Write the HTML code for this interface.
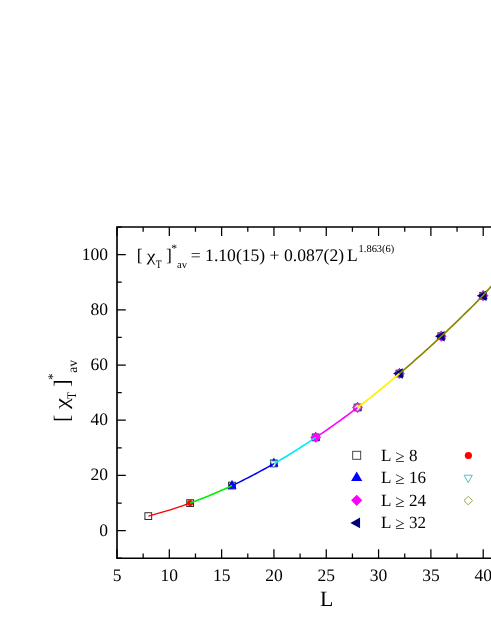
<!DOCTYPE html>
<html><head><meta charset="utf-8"><title>chart</title>
<style>
html,body{margin:0;padding:0;background:#fff;}
body{width:491px;height:635px;overflow:hidden;}
svg{display:block;will-change:transform;}
text{font-family:"Liberation Serif",serif;fill:#000;text-rendering:geometricPrecision;}
</style></head><body>
<svg width="491" height="635" viewBox="0 0 491 635">
<rect x="0" y="0" width="491" height="635" fill="#fff"/>
<rect x="144.91" y="512.73" width="6.75" height="6.75" fill="#fff" stroke="#2a2a2a" stroke-width="1.0"/>
<rect x="186.77" y="499.73" width="6.75" height="6.75" fill="#fff" stroke="#2a2a2a" stroke-width="1.0"/>
<rect x="228.62" y="482.23" width="6.75" height="6.75" fill="#fff" stroke="#2a2a2a" stroke-width="1.0"/>
<rect x="270.47" y="460.02" width="6.75" height="6.75" fill="#fff" stroke="#2a2a2a" stroke-width="1.0"/>
<rect x="312.32" y="434.02" width="6.75" height="6.75" fill="#fff" stroke="#2a2a2a" stroke-width="1.0"/>
<rect x="354.17" y="404.12" width="6.75" height="6.75" fill="#fff" stroke="#2a2a2a" stroke-width="1.0"/>
<rect x="396.03" y="370.12" width="6.75" height="6.75" fill="#fff" stroke="#2a2a2a" stroke-width="1.0"/>
<rect x="437.88" y="332.82" width="6.75" height="6.75" fill="#fff" stroke="#2a2a2a" stroke-width="1.0"/>
<rect x="479.73" y="292.43" width="6.75" height="6.75" fill="#fff" stroke="#2a2a2a" stroke-width="1.0"/>
<circle cx="190.14" cy="503.10" r="3.05" fill="#f00"/>
<circle cx="231.99" cy="485.60" r="3.05" fill="#f00"/>
<circle cx="273.84" cy="463.40" r="3.05" fill="#f00"/>
<circle cx="315.70" cy="437.40" r="3.05" fill="#f00"/>
<circle cx="357.55" cy="407.50" r="3.05" fill="#f00"/>
<circle cx="399.40" cy="373.50" r="3.05" fill="#f00"/>
<circle cx="441.25" cy="336.20" r="3.05" fill="#f00"/>
<circle cx="483.10" cy="295.80" r="3.05" fill="#f00"/>
<path d="M227.39 488.72 L236.59 488.72 L231.99 479.81 Z" fill="#00f"/>
<path d="M269.24 466.51 L278.44 466.51 L273.84 457.61 Z" fill="#00f"/>
<path d="M311.10 440.51 L320.30 440.51 L315.70 431.61 Z" fill="#00f"/>
<path d="M352.95 410.62 L362.15 410.62 L357.55 401.71 Z" fill="#00f"/>
<path d="M394.80 376.62 L404.00 376.62 L399.40 367.71 Z" fill="#00f"/>
<path d="M436.65 339.31 L445.85 339.31 L441.25 330.41 Z" fill="#00f"/>
<path d="M478.50 298.92 L487.70 298.92 L483.10 290.01 Z" fill="#00f"/>
<path d="M270.14 461.02 L277.54 461.02 L273.84 467.82 Z" fill="#fff" stroke="#3aa" stroke-width="0.8"/>
<path d="M312.00 435.02 L319.40 435.02 L315.70 441.82 Z" fill="#fff" stroke="#3aa" stroke-width="0.8"/>
<path d="M353.85 405.12 L361.25 405.12 L357.55 411.92 Z" fill="#fff" stroke="#3aa" stroke-width="0.8"/>
<path d="M395.70 371.12 L403.10 371.12 L399.40 377.92 Z" fill="#fff" stroke="#3aa" stroke-width="0.8"/>
<path d="M437.55 333.82 L444.95 333.82 L441.25 340.62 Z" fill="#fff" stroke="#3aa" stroke-width="0.8"/>
<path d="M479.40 293.42 L486.80 293.42 L483.10 300.22 Z" fill="#fff" stroke="#3aa" stroke-width="0.8"/>
<path d="M310.25 437.40 L315.70 431.95 L321.15 437.40 L315.70 442.85 Z" fill="#f0f" stroke="none" stroke-width="0"/>
<path d="M352.10 407.50 L357.55 402.05 L363.00 407.50 L357.55 412.95 Z" fill="#f0f" stroke="none" stroke-width="0"/>
<path d="M393.95 373.50 L399.40 368.05 L404.85 373.50 L399.40 378.95 Z" fill="#f0f" stroke="none" stroke-width="0"/>
<path d="M435.80 336.20 L441.25 330.75 L446.70 336.20 L441.25 341.65 Z" fill="#f0f" stroke="none" stroke-width="0"/>
<path d="M477.65 295.80 L483.10 290.35 L488.55 295.80 L483.10 301.25 Z" fill="#f0f" stroke="none" stroke-width="0"/>
<path d="M354.10 407.50 L357.55 404.05 L361.00 407.50 L357.55 410.95 Z" fill="#fff" stroke="#85852a" stroke-width="0.9"/>
<path d="M395.95 373.50 L399.40 370.05 L402.85 373.50 L399.40 376.95 Z" fill="#fff" stroke="#85852a" stroke-width="0.9"/>
<path d="M437.80 336.20 L441.25 332.75 L444.70 336.20 L441.25 339.65 Z" fill="#fff" stroke="#85852a" stroke-width="0.9"/>
<path d="M479.65 295.80 L483.10 292.35 L486.55 295.80 L483.10 299.25 Z" fill="#fff" stroke="#85852a" stroke-width="0.9"/>
<path d="M402.80 368.20 L402.80 378.80 L393.10 373.50 Z" fill="#000080"/>
<path d="M444.65 330.90 L444.65 341.50 L434.95 336.20 Z" fill="#000080"/>
<path d="M486.50 290.50 L486.50 301.10 L476.80 295.80 Z" fill="#000080"/>
<path d="M148.39 516.06 L151.00 515.37 L153.62 514.67 L156.24 513.96 L158.85 513.22 L161.47 512.47 L164.08 511.69 L166.70 510.91 L169.31 510.10 L171.93 509.27 L174.55 508.43 L177.16 507.57 L179.78 506.69 L182.39 505.80 L185.01 504.89 L187.63 503.96 L190.24 503.01" fill="none" stroke="#ff0000" stroke-width="1.35" stroke-linecap="butt"/>
<path d="M190.24 503.01 L192.86 502.05 L195.47 501.07 L198.09 500.07 L200.70 499.06 L203.32 498.03 L205.94 496.98 L208.55 495.91 L211.17 494.83 L213.78 493.73 L216.40 492.61 L219.01 491.48 L221.63 490.33 L224.25 489.17 L226.86 487.98 L229.48 486.79 L232.09 485.57" fill="none" stroke="#00f000" stroke-width="1.6" stroke-linecap="butt"/>
<path d="M232.09 485.57 L234.71 484.34 L237.32 483.08 L239.94 481.80 L242.56 480.50 L245.17 479.19 L247.79 477.85 L250.40 476.50 L253.02 475.13 L255.63 473.74 L258.25 472.34 L260.87 470.92 L263.48 469.49 L266.10 468.05 L268.71 466.59 L271.33 465.13 L273.94 463.65" fill="none" stroke="#0000ff" stroke-width="1.5" stroke-linecap="butt"/>
<path d="M273.94 463.65 L276.56 462.15 L279.18 460.63 L281.79 459.08 L284.41 457.51 L287.02 455.93 L289.64 454.32 L292.26 452.69 L294.87 451.04 L297.49 449.38 L300.10 447.71 L302.72 446.02 L305.33 444.32 L307.95 442.61 L310.57 440.89 L313.18 439.16 L315.80 437.43" fill="none" stroke="#00ecf8" stroke-width="1.65" stroke-linecap="butt"/>
<path d="M315.80 437.43 L318.41 435.68 L321.03 433.92 L323.64 432.13 L326.26 430.33 L328.88 428.51 L331.49 426.68 L334.11 424.83 L336.72 422.96 L339.34 421.08 L341.95 419.18 L344.57 417.27 L347.19 415.34 L349.80 413.40 L352.42 411.45 L355.03 409.48 L357.65 407.51" fill="none" stroke="#ff00ff" stroke-width="1.6" stroke-linecap="butt"/>
<path d="M357.65 407.51 L360.26 405.51 L362.88 403.50 L365.50 401.46 L368.11 399.40 L370.73 397.33 L373.34 395.24 L375.96 393.13 L378.57 391.00 L381.19 388.86 L383.81 386.70 L386.42 384.54 L389.04 382.35 L391.65 380.16 L394.27 377.96 L396.89 375.75 L399.50 373.52" fill="none" stroke="#fff200" stroke-width="1.7" stroke-linecap="butt"/>
<path d="M399.50 373.52 L402.12 371.29 L404.73 369.05 L407.35 366.80 L409.96 364.54 L412.58 362.26 L415.20 359.98 L417.81 357.68 L420.43 355.36 L423.04 353.03 L425.66 350.69 L428.27 348.32 L430.89 345.95 L433.51 343.55 L436.12 341.13 L438.74 338.70 L441.35 336.25 L443.97 333.78 L446.58 331.31 L449.20 328.82 L451.82 326.33 L454.43 323.83 L457.05 321.32 L459.66 318.80 L462.28 316.26 L464.89 313.71 L467.51 311.14 L470.13 308.56 L472.74 305.96 L475.36 303.33 L477.97 300.69 L480.59 298.03 L483.20 295.34 L485.82 292.42 L488.44 289.49 L491.05 286.54 L493.67 283.58 L495.00 282.06" fill="none" stroke="#868600" stroke-width="1.65" stroke-linecap="butt"/>
<path d="M117.00 227.00 H500 M117.00 227.00 V558.20 M117.00 558.20 H500" fill="none" stroke="#000" stroke-width="1.65" stroke-linecap="square"/>
<path d="M117.00 558.20 v-9.0 M117.00 227.00 v9.0 M169.31 558.20 v-9.0 M169.31 227.00 v9.0 M221.63 558.20 v-9.0 M221.63 227.00 v9.0 M273.94 558.20 v-9.0 M273.94 227.00 v9.0 M326.26 558.20 v-9.0 M326.26 227.00 v9.0 M378.57 558.20 v-9.0 M378.57 227.00 v9.0 M430.89 558.20 v-9.0 M430.89 227.00 v9.0 M483.20 558.20 v-9.0 M483.20 227.00 v9.0 M143.16 558.20 v-4.8 M143.16 227.00 v4.8 M195.47 558.20 v-4.8 M195.47 227.00 v4.8 M247.79 558.20 v-4.8 M247.79 227.00 v4.8 M300.10 558.20 v-4.8 M300.10 227.00 v4.8 M352.42 558.20 v-4.8 M352.42 227.00 v4.8 M404.73 558.20 v-4.8 M404.73 227.00 v4.8 M457.05 558.20 v-4.8 M457.05 227.00 v4.8 M509.36 558.20 v-4.8 M509.36 227.00 v4.8 M117.00 530.60 h8.8 M117.00 475.40 h8.8 M117.00 420.20 h8.8 M117.00 365.00 h8.8 M117.00 309.80 h8.8 M117.00 254.60 h8.8 M117.00 558.20 h4.7 M117.00 503.00 h4.7 M117.00 447.80 h4.7 M117.00 392.60 h4.7 M117.00 337.40 h4.7 M117.00 282.20 h4.7 M117.00 227.00 h4.7" fill="none" stroke="#000" stroke-width="1.25"/>
<text x="117.00" y="580.8" font-size="17.5" text-anchor="middle">5</text>
<text x="169.31" y="580.8" font-size="17.5" text-anchor="middle">10</text>
<text x="221.63" y="580.8" font-size="17.5" text-anchor="middle">15</text>
<text x="273.94" y="580.8" font-size="17.5" text-anchor="middle">20</text>
<text x="326.26" y="580.8" font-size="17.5" text-anchor="middle">25</text>
<text x="378.57" y="580.8" font-size="17.5" text-anchor="middle">30</text>
<text x="430.89" y="580.8" font-size="17.5" text-anchor="middle">35</text>
<text x="483.20" y="580.8" font-size="17.5" text-anchor="middle">40</text>
<text x="107.9" y="535.55" font-size="17.5" text-anchor="end">0</text>
<text x="107.9" y="480.35" font-size="17.5" text-anchor="end">20</text>
<text x="107.9" y="425.15" font-size="17.5" text-anchor="end">40</text>
<text x="107.9" y="369.95" font-size="17.5" text-anchor="end">60</text>
<text x="107.9" y="314.75" font-size="17.5" text-anchor="end">80</text>
<text x="107.9" y="259.55" font-size="17.5" text-anchor="end">100</text>
<text x="326.7" y="605.7" font-size="21.8" text-anchor="middle">L</text>
<text transform="translate(68.90 422.00) rotate(-90)" font-size="22">[</text>
<text transform="translate(67.90 409.00) rotate(-90) scale(1.06 0.83)" font-size="23.2">χ</text>
<text transform="translate(76.20 399.10) rotate(-90) scale(0.88 1)" font-size="13.0">T</text>
<text transform="translate(68.70 386.70) rotate(-90)" font-size="22">]</text>
<text transform="translate(56.50 380.00) rotate(-90)" font-size="13.3">*</text>
<text transform="translate(76.60 372.80) rotate(-90)" font-size="13.6">av</text>
<text x="136.8" y="260.8" font-size="17.6">[</text>
<text transform="translate(146.8 260.5) scale(1.06 0.86)" font-size="18.6">χ</text>
<text transform="translate(155.7 267.5) scale(0.86 1)" font-size="11.3">T</text>
<text x="165.9" y="260.5" font-size="17.6">]</text>
<text x="171.2" y="251.9" font-size="11.6">*</text>
<text x="177.0" y="267.6" font-size="10.6">av</text>
<text x="190.8" y="260.5" font-size="17.6">= 1.10(15) + 0.087(2)</text>
<text x="346.90" y="260.5" font-size="17.6">L</text>
<text x="358.6" y="251.7" font-size="10.45">1.863(6)</text>
<rect x="352.70" y="451.30" width="8.00" height="8.00" fill="#fff" stroke="#333" stroke-width="0.9"/>
<path d="M351.10 481.12 L362.30 481.12 L356.70 471.62 Z" fill="#00f"/>
<path d="M351.10 500.30 L356.70 494.70 L362.30 500.30 L356.70 505.90 Z" fill="#f0f" stroke="none" stroke-width="0"/>
<path d="M360.09 517.50 L360.09 528.30 L350.39 522.90 Z" fill="#000080"/>
<text x="380.9" y="460.60" font-size="17.05">L <tspan dx="0.4" dy="1.3">≥</tspan><tspan dy="-1.3"> 8</tspan></text>
<text x="380.9" y="483.15" font-size="17.05">L <tspan dx="0.4" dy="1.3">≥</tspan><tspan dy="-1.3"> 16</tspan></text>
<text x="380.9" y="505.70" font-size="17.05">L <tspan dx="0.4" dy="1.3">≥</tspan><tspan dy="-1.3"> 24</tspan></text>
<text x="380.9" y="528.10" font-size="17.05">L <tspan dx="0.4" dy="1.3">≥</tspan><tspan dy="-1.3"> 32</tspan></text>
<circle cx="468.40" cy="455.50" r="3.60" fill="#f00"/>
<path d="M464.10 475.21 L472.30 475.21 L468.20 482.61 Z" fill="#fff" stroke="#3aa" stroke-width="0.8"/>
<path d="M463.95 500.55 L468.25 496.25 L472.55 500.55 L468.25 504.85 Z" fill="#fff" stroke="#8a8a30" stroke-width="0.8"/>
</svg>
</body></html>
